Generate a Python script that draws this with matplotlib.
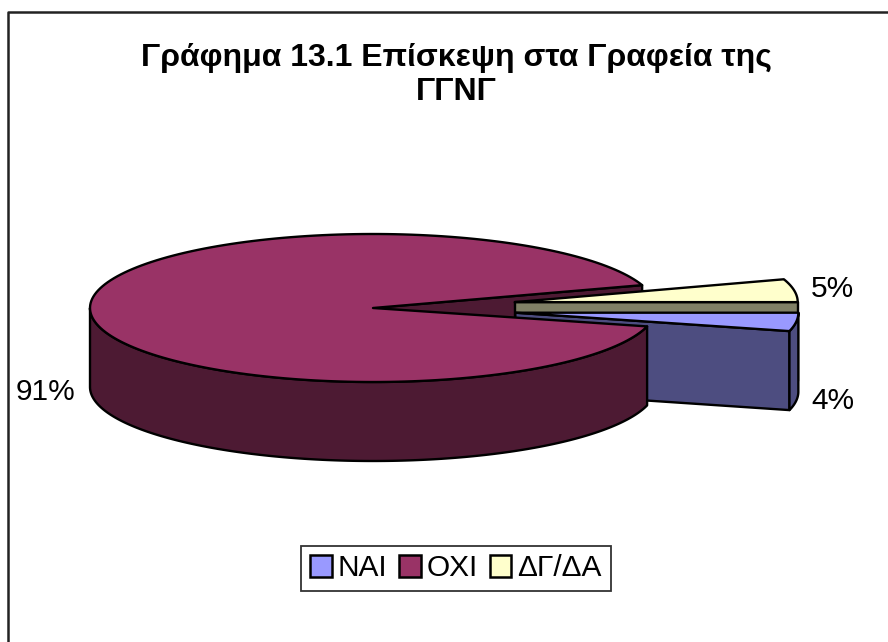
import numpy as np
import matplotlib
matplotlib.use("Agg")
import matplotlib.pyplot as plt
from matplotlib.patches import Polygon, Patch

plt.rcParams['font.family'] = ['Liberation Sans', 'DejaVu Sans']

# data
categories = ['ΝΑΙ', 'ΟΧΙ', 'ΔΓ/ΔΑ']
shares = [4, 91, 5]
title = 'Γράφημα 13.1 Επίσκεψη στα Γραφεία της\nΓΓΝΓ'

top_colors = ['#9999FF', '#993366', '#FFFFCC']
side_colors = ['#4D4D80', '#4D1A33', '#808066']

# pie geometry in pixels
cx, cy = 373, 308
rx, ry = 283, 74
depth = 79
explode = 0.507

fig = plt.figure(figsize=(8.88, 6.42), dpi=100)
ax = fig.add_axes([0, 0, 1, 1])
ax.set_xlim(0, 888)
ax.set_ylim(642, 0)
ax.axis('off')


def pt(a, off=(0, 0), r=1.0):
    a = np.radians(a)
    return (cx + off[0] + rx * r * np.cos(a), cy + off[1] - ry * r * np.sin(a))


def arc(a0, a1, off=(0, 0)):
    angs = np.linspace(a0, a1, 200)
    return [pt(a, off) for a in angs]


def draw(points, color, z):
    ax.add_patch(Polygon(points, closed=True, facecolor=color, edgecolor='black',
                         linewidth=1.7, joinstyle='round', zorder=z))


def down(points):
    return [(x, y + depth) for x, y in points]


# slices go clockwise from 3 o'clock
edges = -np.cumsum([0] + shares) * 3.6
no_s, no_e = edges[0], edges[1]
oxi_s, oxi_e = edges[1], edges[2]
dk_s, dk_e = edges[2], edges[3]


def offset(a0, a1):
    m = np.radians((a0 + a1) / 2)
    return (rx * explode * np.cos(m), -ry * explode * np.sin(m))


# inner wall of the big slice, seen through the gap
c = (cx, cy)
p = pt(oxi_e)
draw([c, p, (p[0], p[1] + depth), (cx, cy + depth)], side_colors[1], 1)

# yellow slice
off = offset(dk_s, dk_e)
c2 = (cx + off[0], cy + off[1])
p = pt(dk_e, off)
draw([c2, p, (p[0], p[1] + depth), (c2[0], c2[1] + depth)], side_colors[2], 2)
draw([c2] + arc(dk_s, dk_e, off), top_colors[2], 3)

# blue slice
off = offset(no_s, no_e)
c3 = (cx + off[0], cy + off[1])
p = pt(no_e, off)
draw([c3, p, (p[0], p[1] + depth), (c3[0], c3[1] + depth)], side_colors[0], 4)
a = arc(no_s, no_e, off)
draw(a + down(a)[::-1], side_colors[0], 4)
draw([c3] + a, top_colors[0], 5)

# big slice, rim and top
a = arc(oxi_s, -180)
draw(a + down(a)[::-1], side_colors[1], 6)
draw([c] + arc(oxi_s, oxi_e), top_colors[1], 7)

# chart frame, only top and left are in the picture
ax.plot([7.5, 7.5, 888], [642, 11.5, 11.5], color='#222222', linewidth=1.8, zorder=0)

ax.text(456, 75, title, ha='center', va='center', fontsize=23, fontweight='bold',
        linespacing=1.2)

# data labels
ax.text(45, 392, '%d%%' % shares[1], ha='center', va='center', fontsize=21.5)
ax.text(832, 289, '%d%%' % shares[2], ha='center', va='center', fontsize=21.5)
ax.text(833, 401, '%d%%' % shares[0], ha='center', va='center', fontsize=21.5)

handles = [Patch(facecolor=col, edgecolor='black', linewidth=1.8) for col in top_colors]
leg = ax.legend(handles, categories, ncol=3, loc='center', bbox_to_anchor=(456, 568.5),
                bbox_transform=ax.transData, fontsize=21.5, fancybox=False,
                edgecolor='#333333', framealpha=1, handlelength=0.72, handleheight=0.72,
                handletextpad=0.2, columnspacing=0.4, borderpad=0.3, borderaxespad=0)
leg.get_frame().set_linewidth(1.3)
leg.set_zorder(8)

fig.savefig('out.png', dpi=100)
